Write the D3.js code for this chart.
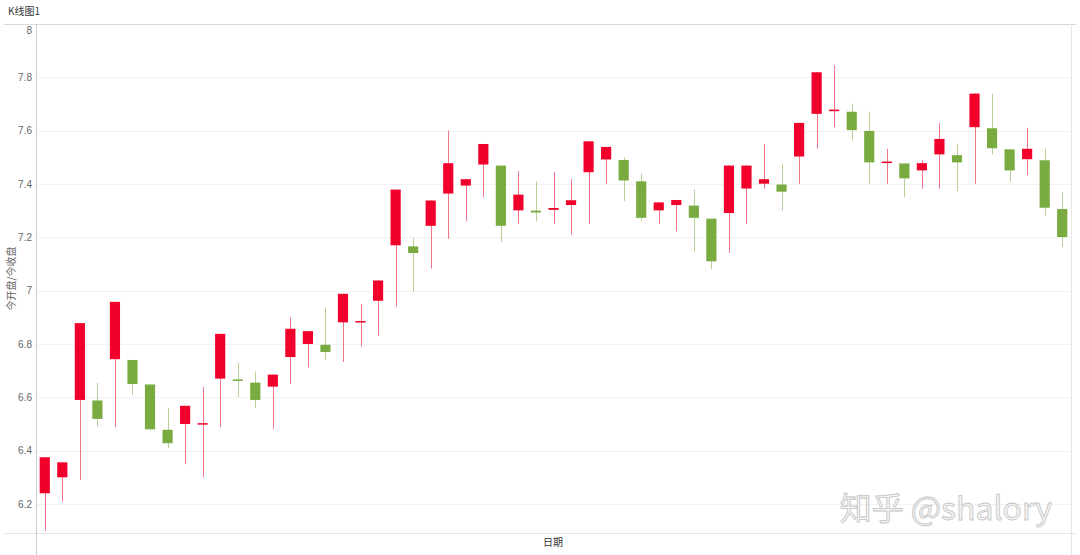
<!DOCTYPE html>
<html>
<head>
<meta charset="utf-8">
<script src="https://cdn.jsdelivr.net/npm/d3@7"></script>
<style>
  body { margin: 0; background: #fff; font-family: "Noto Sans CJK SC", "Noto Sans", sans-serif; }
</style>
</head>
<body>
<div id="chart"></div>
<script>
// Candle data
const days = d3.range(1, 60).map(d => "D" + d);
const opens  = [6.24,6.30,6.59,6.588,6.743,6.74,6.648,6.478,6.50,6.50,6.67,6.667,6.655,6.64,6.751,6.80,6.797,6.881,6.883,6.962,7.17,7.166,7.243,7.364,7.394,7.473,7.469,7.301,7.30,7.303,7.321,7.444,7.492,7.49,7.41,7.301,7.321,7.319,7.27,7.291,7.383,7.401,7.398,7.503,7.663,7.673,7.671,7.599,7.481,7.477,7.451,7.511,7.508,7.613,7.609,7.53,7.493,7.489,7.306];
const closes = [6.375,6.356,6.878,6.519,6.958,6.65,6.48,6.428,6.568,6.503,6.838,6.662,6.59,6.685,6.857,6.848,6.77,6.988,6.886,7.038,7.379,7.141,7.338,7.478,7.418,7.55,7.243,7.36,7.293,7.31,7.339,7.56,7.539,7.413,7.273,7.331,7.34,7.273,7.11,7.469,7.469,7.418,7.371,7.629,7.819,7.679,7.602,7.481,7.484,7.421,7.478,7.569,7.481,7.739,7.534,7.451,7.532,7.311,7.201];
const highs  = [6.375,6.356,6.878,6.655,6.958,6.74,6.648,6.559,6.568,6.638,6.838,6.728,6.697,6.685,6.899,6.848,6.936,6.988,6.95,7.038,7.379,7.197,7.338,7.60,7.418,7.55,7.469,7.448,7.41,7.444,7.419,7.56,7.539,7.50,7.439,7.331,7.34,7.379,7.27,7.469,7.469,7.549,7.477,7.629,7.819,7.845,7.702,7.672,7.532,7.477,7.489,7.629,7.552,7.739,7.738,7.53,7.611,7.532,7.369];
const lows   = [6.10,6.208,6.29,6.49,6.488,6.609,6.48,6.409,6.349,6.30,6.488,6.60,6.561,6.48,6.65,6.712,6.74,6.732,6.79,6.831,6.94,6.997,7.083,7.194,7.26,7.35,7.181,7.251,7.26,7.251,7.21,7.251,7.40,7.335,7.26,7.251,7.222,7.147,7.081,7.141,7.251,7.382,7.30,7.401,7.532,7.613,7.563,7.401,7.401,7.351,7.382,7.382,7.373,7.401,7.51,7.41,7.433,7.282,7.164];
const yTicks = [6.2, 6.4, 6.6, 6.8, 7, 7.2, 7.4, 7.6, 7.8, 8];

const width = 1080;
const height = 555;
const margin = { top: 24, right: 9, bottom: 22, left: 36 };

const candles = days.map((d, i) => ({ day: d, open: opens[i], close: closes[i], high: highs[i], low: lows[i] }));

const svg = d3.select("#chart").append("svg")
    .attr("width", width)
    .attr("height", height)
    .style("font-family", "'Noto Sans CJK SC', 'Noto Sans', sans-serif");

const x = d3.scaleBand()
    .domain(days)
    .range([margin.left, width - margin.right])
    .paddingInner(0.42)
    .paddingOuter(0.21);

const y = d3.scaleLinear()
    .domain([6.091, 8])
    .range([height - margin.bottom, margin.top]);

// Title
svg.append("text")
    .attr("x", 8)
    .attr("y", 15)
    .attr("font-size", 10)
    .attr("fill", "#333")
    .text("K线图1");

// Frame lines
svg.append("line")
    .attr("x1", 4).attr("x2", width - 4)
    .attr("y1", margin.top + 0.5).attr("y2", margin.top + 0.5)
    .attr("stroke", "#d9d9d9");
svg.append("line")
    .attr("x1", 4).attr("x2", width - 4)
    .attr("y1", height - margin.bottom + 0.5).attr("y2", height - margin.bottom + 0.5)
    .attr("stroke", "#e6e6e6");
svg.append("line")
    .attr("x1", width - margin.right + 0.5).attr("x2", width - margin.right + 0.5)
    .attr("y1", margin.top).attr("y2", height)
    .attr("stroke", "#e6e6e6");

// Gridlines
svg.append("g")
    .selectAll("line")
    .data(yTicks.filter(t => t < 8))
    .enter().append("line")
    .attr("x1", margin.left)
    .attr("x2", width - margin.right)
    .attr("y1", d => Math.round(y(d)) + 0.5)
    .attr("y2", d => Math.round(y(d)) + 0.5)
    .attr("stroke", "#f2f2f2");

// Y axis
const yAxis = svg.append("g")
    .attr("transform", `translate(${margin.left},0)`)
    .call(d3.axisLeft(y).tickValues(yTicks).tickSize(0).tickPadding(4).tickFormat(d3.format("")));
yAxis.select(".domain").remove();
yAxis.append("line")
    .attr("x1", 0.5).attr("x2", 0.5)
    .attr("y1", margin.top).attr("y2", height)
    .attr("stroke", "#cccccc");
yAxis.selectAll("text")
    .attr("fill", "#666")
    .attr("font-size", 10)
    .attr("dy", d => d === 8 ? "0.95em" : "0.32em");

// Axis titles
svg.append("text")
    .attr("transform", `translate(15,${(margin.top + height - margin.bottom) / 2}) rotate(-90)`)
    .attr("text-anchor", "middle")
    .attr("font-size", 10)
    .attr("fill", "#666")
    .text("今开盘/今收盘");

svg.append("text")
    .attr("x", 553)
    .attr("y", 546)
    .attr("text-anchor", "middle")
    .attr("font-size", 10)
    .attr("fill", "#333")
    .text("日期");

const red = "#f0002a";
const green = "#7aab40";
const colorOf = d => d.close >= d.open ? red : green;

// Wicks
svg.append("g")
    .selectAll("line")
    .data(candles)
    .enter().append("line")
    .attr("x1", d => Math.round(x(d.day) + x.bandwidth() / 2) + 0.5)
    .attr("x2", d => Math.round(x(d.day) + x.bandwidth() / 2) + 0.5)
    .attr("y1", d => y(d.high))
    .attr("y2", d => y(d.low))
    .attr("stroke", colorOf)
    .attr("stroke-opacity", 0.55)
    .attr("stroke-width", 1);

// Bodies
svg.append("g")
    .selectAll("rect")
    .data(candles)
    .enter().append("rect")
    .attr("x", d => x(d.day))
    .attr("width", x.bandwidth())
    .attr("y", d => y(Math.max(d.open, d.close)))
    .attr("height", d => Math.max(1.5, Math.abs(y(d.open) - y(d.close))))
    .attr("fill", colorOf);

// Watermark
svg.append("text")
    .attr("x", 1052)
    .attr("y", 520)
    .attr("text-anchor", "end")
    .attr("font-size", 32)
    .attr("fill", "#f4f4f4")
    .attr("stroke", "#c4c4c4")
    .attr("stroke-width", 0.8)
    .text("知乎 @shalory");
</script>
</body>
</html>
